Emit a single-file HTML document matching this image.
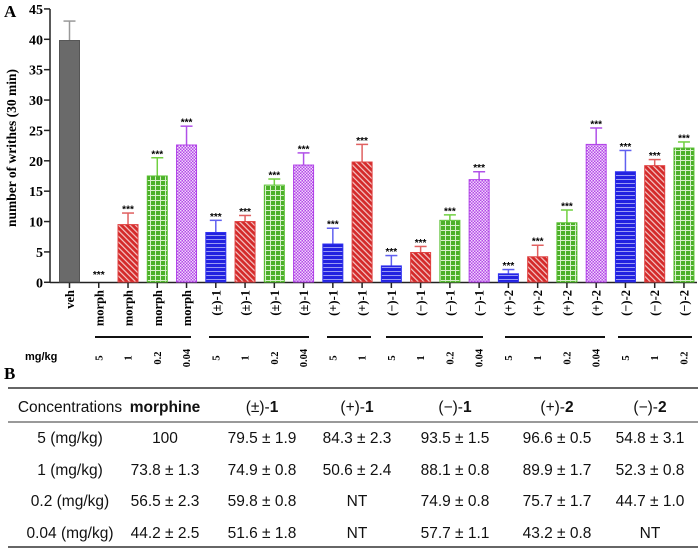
<!DOCTYPE html>
<html><head><meta charset="utf-8"><style>
html,body{margin:0;padding:0;background:#fff;width:700px;height:550px;overflow:hidden}
svg{display:block}
.ax{font-family:"Liberation Serif",serif;font-weight:bold}
.tb{font-family:"Liberation Sans",sans-serif;font-size:15.5px;fill:#111}
</style></head><body>
<svg width="700" height="550" viewBox="0 0 700 550" xmlns="http://www.w3.org/2000/svg">
<defs>
<pattern id="pr" width="4" height="4" patternUnits="userSpaceOnUse" patternTransform="rotate(-45)">
<rect width="4" height="4" fill="#d42a2a"/><rect width="1.2" height="4" fill="#f4c8c8"/></pattern>
<pattern id="pg" width="5" height="5" patternUnits="userSpaceOnUse">
<rect width="5" height="5" fill="#4cb02a"/><rect width="5" height="1" fill="#d8f0cc"/><rect width="1" height="5" fill="#d8f0cc"/></pattern>
<pattern id="pp" width="3" height="3" patternUnits="userSpaceOnUse">
<rect width="3" height="3" fill="#b448e8"/><rect width="1.5" height="1.5" fill="#f0d8fa"/><rect x="1.5" y="1.5" width="1.5" height="1.5" fill="#f0d8fa"/></pattern>
<pattern id="pb" width="4" height="4" patternUnits="userSpaceOnUse">
<rect width="4" height="4" fill="#2222e0"/><rect y="3" width="4" height="1" fill="#9a9af4"/></pattern>
</defs>
<text x="4" y="17" class="ax" font-size="17">A</text>
<text class="ax" font-size="13.5" transform="translate(16,148) rotate(-90)" text-anchor="middle">number of writhes (30 min)</text>
<g class="ax" font-size="14" text-anchor="end" id="yt"></g>
<line x1="50" y1="9" x2="50" y2="283" stroke="#222" stroke-width="1.5"/>
<line x1="50" y1="282.5" x2="697" y2="282.5" stroke="#222" stroke-width="1.5"/>
<g id="bars"></g>
<g id="lbl" class="ax" font-size="12.5"></g>
<g stroke="#111" stroke-width="2">
<line x1="95" y1="337" x2="191" y2="337"/><line x1="209" y1="337" x2="309" y2="337"/>
<line x1="327" y1="337" x2="371" y2="337"/><line x1="386" y1="337" x2="483" y2="337"/>
<line x1="505" y1="337" x2="605" y2="337"/><line x1="618" y1="337" x2="692" y2="337"/>
</g>
<text x="25" y="360" font-family="Liberation Sans,sans-serif" font-weight="bold" font-size="11">mg/kg</text>
<text x="4" y="379" class="ax" font-size="17">B</text>
<line x1="8" y1="388" x2="698" y2="388" stroke="#333" stroke-width="1.5"/>
<line x1="8" y1="422" x2="698" y2="422" stroke="#333" stroke-width="1"/>
<line x1="8" y1="547" x2="698" y2="547" stroke="#333" stroke-width="1.5"/>
<g class="tb" text-anchor="middle" id="tab"></g>
</svg>
<script>
var ns="http://www.w3.org/2000/svg";
function el(p,t,a,txt){var e=document.createElementNS(ns,t);for(var k in a)e.setAttribute(k,a[k]);if(txt!=null)e.textContent=txt;p.appendChild(e);return e;}
var Y=function(v){return 282.3-v*6.075;};
var yt=document.getElementById('yt');
for(var v=0;v<=45;v+=5){el(yt,'text',{x:43,y:Y(v)+5},v);el(document.querySelector('svg'),'line',{x1:44,y1:Y(v),x2:50,y2:Y(v),stroke:'#222','stroke-width':1.5});}
var d=[
['veh','',39.8,43,'g'],
['morph','5',0,0,'r'],['morph','1',9.5,11.4,'r'],['morph','0.2',17.5,20.5,'gr'],['morph','0.04',22.6,25.7,'p'],
['(±)-1','5',8.2,10.2,'b'],['(±)-1','1',10,11,'r'],['(±)-1','0.2',16,17,'gr'],['(±)-1','0.04',19.3,21.3,'p'],
['(+)-1','5',6.3,8.9,'b'],['(+)-1','1',19.8,22.7,'r'],
['(−)-1','5',2.7,4.4,'b'],['(−)-1','1',4.9,5.9,'r'],['(−)-1','0.2',10.2,11.1,'gr'],['(−)-1','0.04',16.9,18.2,'p'],
['(+)-2','5',1.4,2.1,'b'],['(+)-2','1',4.2,6.1,'r'],['(+)-2','0.2',9.8,11.9,'gr'],['(+)-2','0.04',22.7,25.4,'p'],
['(−)-2','5',18.2,21.7,'b'],['(−)-2','1',19.2,20.2,'r'],['(−)-2','0.2',22.1,23.1,'gr']];
var fill={g:'#6a6a6a',r:'url(#pr)',gr:'url(#pg)',p:'url(#pp)',b:'url(#pb)'};
var st={g:'#555',r:'#e04040',gr:'#58c030',p:'#b040e8',b:'#3030f0'};
var eb={g:'#999',r:'#e06060',gr:'#70d040',p:'#b050e8',b:'#6060f0'};
var B=document.getElementById('bars'),L=document.getElementById('lbl');
d.forEach(function(r,i){
 var c=69.5+i*29.26,w=20,t=Y(r[2]),e=Y(r[3]);
 el(B,'line',{x1:c,y1:282,x2:c,y2:288,stroke:'#222','stroke-width':1.5});
 if(r[2]>0){
  el(B,'line',{x1:c,y1:t,x2:c,y2:e,stroke:eb[r[4]],'stroke-width':1.5});
  el(B,'line',{x1:c-6,y1:e,x2:c+6,y2:e,stroke:eb[r[4]],'stroke-width':1.5});
  el(B,'rect',{x:c-w/2,y:t,width:w,height:282-t,fill:fill[r[4]],stroke:st[r[4]],'stroke-width':1});
 }
 if(i>0) el(B,'text',{x:c,y:(r[2]>0?e-0.5:278),'text-anchor':'middle','font-family':'Liberation Sans,sans-serif','font-weight':'bold','font-size':10},'***');
 el(L,'text',{transform:'translate('+(c+4.5)+',290) rotate(-90)','text-anchor':'end'},r[0]);
 if(r[1]) el(L,'text',{transform:'translate('+(c+3.5)+',358) rotate(-90)','text-anchor':'middle','font-size':10.5},r[1]);
});
var T=document.getElementById('tab');
var cols=[70,165,262,357,455,557,650];
var hdr=[['Concentrations',''],['morphine','b'],['(±)-','1'],['(+)-','1'],['(−)-','1'],['(+)-','2'],['(−)-','2']];
hdr.forEach(function(h,i){
 var t=el(T,'text',{x:cols[i],y:412});
 if(h[1]=='b'){t.setAttribute('font-weight','bold');t.textContent=h[0];}
 else{t.appendChild(document.createTextNode(h[0]));if(h[1]){el(t,'tspan',{'font-weight':'bold'},h[1]);}}
});
var rows=[['5 (mg/kg)','100','79.5 ± 1.9','84.3 ± 2.3','93.5 ± 1.5','96.6 ± 0.5','54.8 ± 3.1'],
['1 (mg/kg)','73.8 ± 1.3','74.9 ± 0.8','50.6 ± 2.4','88.1 ± 0.8','89.9 ± 1.7','52.3 ± 0.8'],
['0.2 (mg/kg)','56.5 ± 2.3','59.8 ± 0.8','NT','74.9 ± 0.8','75.7 ± 1.7','44.7 ± 1.0'],
['0.04 (mg/kg)','44.2 ± 2.5','51.6 ± 1.8','NT','57.7 ± 1.1','43.2 ± 0.8','NT']];
var ry=[443,475,506,538];
rows.forEach(function(r,j){r.forEach(function(v,i){el(T,'text',{x:cols[i],y:ry[j]},v);});});
</script>
</body></html>
